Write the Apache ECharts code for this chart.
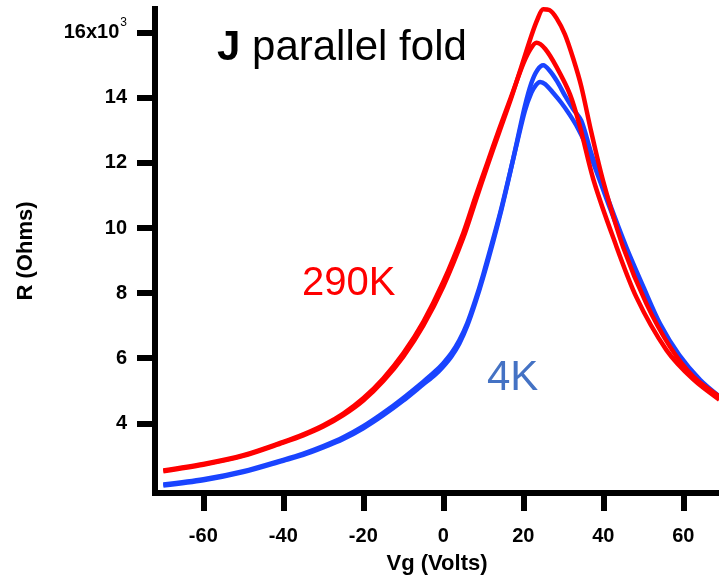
<!DOCTYPE html>
<html>
<head>
<meta charset="utf-8">
<script src="https://cdn.jsdelivr.net/npm/echarts@6/dist/echarts.min.js"></script>
<style>
html,body{margin:0;padding:0;background:#fff;}
#chart{width:719px;height:580px;}
</style>
</head>
<body>
<div id="chart"></div>
<script>
// Tick labels
const xTicks = [-60, -40, -20, 0, 20, 40, 60];
const yTicks = [4, 6, 8, 10, 12, 14, 16];

// 290K, sweep A (higher peak)
const red290A_V = [-70, -60, -50, -40, -35, -30, -25, -20, -15, -10, -5, 0, 5, 8, 11, 14, 17, 19.5, 22, 23.5, 25, 26.5, 28.3, 30.4, 32.5, 34.5, 37, 40, 45, 50.8, 56.7, 62.5, 69];
const red290A_R = [2.53, 2.73, 3.0, 3.41, 3.63, 3.9, 4.25, 4.7, 5.3, 6.05, 7.0, 8.2, 9.7, 10.8, 11.9, 12.95, 14.0, 14.95, 15.9, 16.4, 16.72, 16.7, 16.45, 15.95, 15.2, 14.35, 12.95, 11.43, 9.40, 7.67, 6.35, 5.44, 4.83];

// 290K, sweep B (lower peak)
const red290B_V = [-70, -60, -50, -40, -35, -30, -25, -20, -15, -10, -5, 0, 5, 8, 11, 14, 17, 20, 21.8, 23.3, 25.5, 28.3, 31.7, 34.2, 37.5, 42.5, 48.3, 55.8, 62.5, 69];
const red290B_R = [2.55, 2.75, 3.02, 3.43, 3.66, 3.94, 4.3, 4.77, 5.38, 6.15, 7.12, 8.35, 9.85, 10.95, 12.0, 13.05, 14.05, 15.05, 15.5, 15.69, 15.5, 14.95, 14.1, 13.1, 11.5, 9.70, 7.87, 6.25, 5.35, 4.73];

// 4K, sweep A (higher peak)
const blue4A_V = [-70, -60, -50, -40, -35, -30, -25, -20, -15, -10, -5, -2, 0, 2, 4, 6, 8, 10, 12.5, 14.5, 16.7, 18.5, 20.4, 22, 23.5, 25, 26.5, 28.5, 30.5, 32.5, 34.5, 37, 41.7, 45.8, 50, 54.2, 59, 64.2, 69];
const blue4A_R = [2.09, 2.25, 2.5, 2.85, 3.03, 3.26, 3.52, 3.85, 4.25, 4.7, 5.2, 5.5, 5.75, 6.05, 6.45, 7.0, 7.7, 8.5, 9.6, 10.55, 11.7, 12.7, 13.75, 14.45, 14.85, 15.0, 14.85, 14.5, 14.05, 13.65, 13.3, 12.3, 10.72, 9.40, 8.2, 7.06, 6.1, 5.34, 4.83];

// 4K, sweep B (lower peak)
const blue4B_V = [-70, -60, -50, -40, -35, -30, -25, -20, -15, -10, -5, -2, 0, 2, 4, 6, 8, 10, 12.5, 14.5, 16.7, 18.5, 20.4, 22, 23.2, 24.2, 25.5, 27.5, 29.5, 31.5, 33.5, 35.5, 37.5, 41.7, 45.8, 50, 54.2, 59, 64.2, 69];
const blue4B_R = [2.12, 2.28, 2.53, 2.88, 3.07, 3.3, 3.57, 3.91, 4.32, 4.78, 5.28, 5.6, 5.85, 6.15, 6.55, 7.08, 7.78, 8.58, 9.68, 10.6, 11.72, 12.65, 13.6, 14.15, 14.4, 14.49, 14.42, 14.15, 13.85, 13.5, 13.1, 12.6, 12.0, 10.6, 9.3, 8.1, 7.0, 6.05, 5.3, 4.8];

function pairs(vs, rs) { return vs.map((v, i) => [v, rs[i]]); }

const RED = '#ff0000';
const BLUE = '#1a44ff';
const FONT = 'Liberation Sans, Arial, sans-serif';

const chart = echarts.init(document.getElementById('chart'), null, {renderer: 'canvas'});

function lineSeries(name, data, color) {
  return {
    name: name, type: 'line', data: data, showSymbol: false, symbol: 'none',
    smooth: 0.3, lineStyle: {color: color, width: 4.5}, itemStyle: {color: color},
    animation: false, z: 2
  };
}

chart.setOption({
  animation: false,
  backgroundColor: '#fff',
  title: {
    text: '{b|J} parallel fold',
    left: 217, top: 27, padding: 0,
    textStyle: {
      fontSize: 42, fontWeight: 'normal', color: '#000', fontFamily: FONT,
      rich: {b: {fontSize: 42, fontWeight: 'bold', color: '#000', fontFamily: FONT}}
    }
  },
  grid: {left: 155, right: 0, top: 9, bottom: 82.5, containLabel: false},
  xAxis: {
    type: 'value', min: -72.08, max: 68.93,
    axisLine: {onZero: false, lineStyle: {color: '#000', width: 6, cap: 'square'}},
    axisTick: {customValues: xTicks, length: 18, lineStyle: {color: '#000', width: 6}},
    axisLabel: {customValues: xTicks, margin: 33, fontSize: 20, fontWeight: 'bold', color: '#000', fontFamily: FONT},
    splitLine: {show: false},
    name: 'Vg (Volts)', nameLocation: 'middle', nameGap: 60,
    nameTextStyle: {fontSize: 22, fontWeight: 'bold', color: '#000', fontFamily: FONT}
  },
  yAxis: {
    type: 'value', min: 1.86, max: 16.73,
    axisLine: {onZero: false, lineStyle: {color: '#000', width: 6, cap: 'square'}},
    axisTick: {customValues: yTicks, length: 18, lineStyle: {color: '#000', width: 6}},
    axisLabel: {
      customValues: yTicks, margin: 28, color: '#000',
      formatter: function (v) { return v === 16 ? '{n|16x10}{s|3}' : '{n|' + v + '}'; },
      rich: {
        n: {fontSize: 20, fontWeight: 'bold', color: '#000', fontFamily: FONT},
        s: {fontSize: 12, color: '#000', fontFamily: FONT, padding: [0, 0, 20, 1]}
      }
    },
    splitLine: {show: false},
    name: 'R (Ohms)', nameLocation: 'middle', nameGap: 118, nameRotate: 90,
    nameTextStyle: {fontSize: 22, fontWeight: 'bold', color: '#000', fontFamily: FONT}
  },
  graphic: [
    {type: 'text', left: 302, top: 264, style: {text: '290K', fontSize: 40, fill: RED, fontFamily: FONT}},
    {type: 'text', left: 487, top: 357, style: {text: '4K', fontSize: 42, fill: '#4472c4', fontFamily: FONT}}
  ],
  series: [
    lineSeries('4K B', pairs(blue4B_V, blue4B_R), BLUE),
    lineSeries('4K A', pairs(blue4A_V, blue4A_R), BLUE),
    lineSeries('290K B', pairs(red290B_V, red290B_R), RED),
    lineSeries('290K A', pairs(red290A_V, red290A_R), RED)
  ]
});
</script>
</body>
</html>
